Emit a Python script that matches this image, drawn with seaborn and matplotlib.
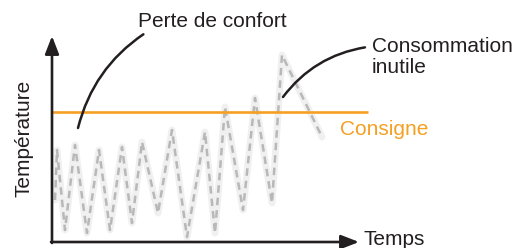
import matplotlib
matplotlib.use("Agg")
import matplotlib.pyplot as plt
import seaborn as sns
import pandas as pd

sns.set_theme(style="white")
plt.rcParams['font.family'] = ['Liberation Sans', 'DejaVu Sans']

# Data (time, temperature in arbitrary units)
time = [3, 5, 13, 23, 35, 47, 58, 70, 80, 90, 106, 120, 135, 153, 163, 173,
        191, 203, 220, 230, 270]
temperature = [42, 92, 12, 97, 9, 92, 12, 95, 19, 100, 29, 112, 5, 110, 9, 135,
               32, 144, 39, 187, 105]
setpoint = 130

df = pd.DataFrame({"Temps": time, "Température": temperature})

INK = '#231f20'
ORANGE = '#f5a023'

fig = plt.figure(figsize=(5.18, 2.48), dpi=100)
ax = fig.add_axes([52/518, 6/248, 320/518, 210/248])
ax.set_xlim(0, 320)
ax.set_ylim(0, 210)

# blurry temperature trace
sns.lineplot(data=df, x="Temps", y="Température", ax=ax, color='#b0b0b0',
             lw=5, alpha=0.18, sort=False)
sns.lineplot(data=df, x="Temps", y="Température", ax=ax, color='#8a8a8a',
             lw=1.8, alpha=0.55, sort=False, linestyle=(0, (3, 2)))

# setpoint
ax.hlines(setpoint, 0, 316, color=ORANGE, lw=1.9, clip_on=False)

for s in ax.spines.values():
    s.set_visible(False)
ax.set_xticks([])
ax.set_yticks([])
ax.set_xlabel("")
ax.set_ylabel("")

# axes arrows
ax.annotate("", xy=(307, 0), xytext=(-1, 0),
            arrowprops=dict(arrowstyle="-|>,head_length=0.9,head_width=0.35",
                            color=INK, lw=1.9, shrinkA=0, shrinkB=0),
            annotation_clip=False)
ax.annotate("", xy=(0, 206), xytext=(0, -1),
            arrowprops=dict(arrowstyle="-|>,head_length=0.9,head_width=0.35",
                            color=INK, lw=1.9, shrinkA=0, shrinkB=0),
            annotation_clip=False)

fs = 15
ax.text(311, -3, "Temps", fontsize=fs, color=INK, ha='left', va='baseline')
ax.text(-28, 104, "Température", fontsize=fs, color=INK, rotation=90,
        ha='center', va='center')
ax.text(288, 107, "Consigne", fontsize=fs, color=ORANGE, ha='left', va='baseline')

# annotations
ax.annotate("Perte de confort", xy=(26, 114), xytext=(86, 215),
            fontsize=fs, color=INK, ha='left', va='baseline',
            arrowprops=dict(arrowstyle="-", color=INK, lw=1.8,
                            connectionstyle="arc3,rad=0.2",
                            shrinkA=0, shrinkB=0,
                            relpos=(0.07, 0.0)),
            annotation_clip=False)
ax.annotate("Consommation\ninutile", xy=(231, 145), xytext=(320, 169),
            fontsize=fs, color=INK, ha='left', va='baseline',
            linespacing=1.1,
            arrowprops=dict(arrowstyle="-", color=INK, lw=1.8,
                            connectionstyle="arc3,rad=0.2",
                            shrinkA=0, shrinkB=0,
                            relpos=(-0.05, 0.75)),
            annotation_clip=False)

fig.savefig("out.png", dpi=100)
